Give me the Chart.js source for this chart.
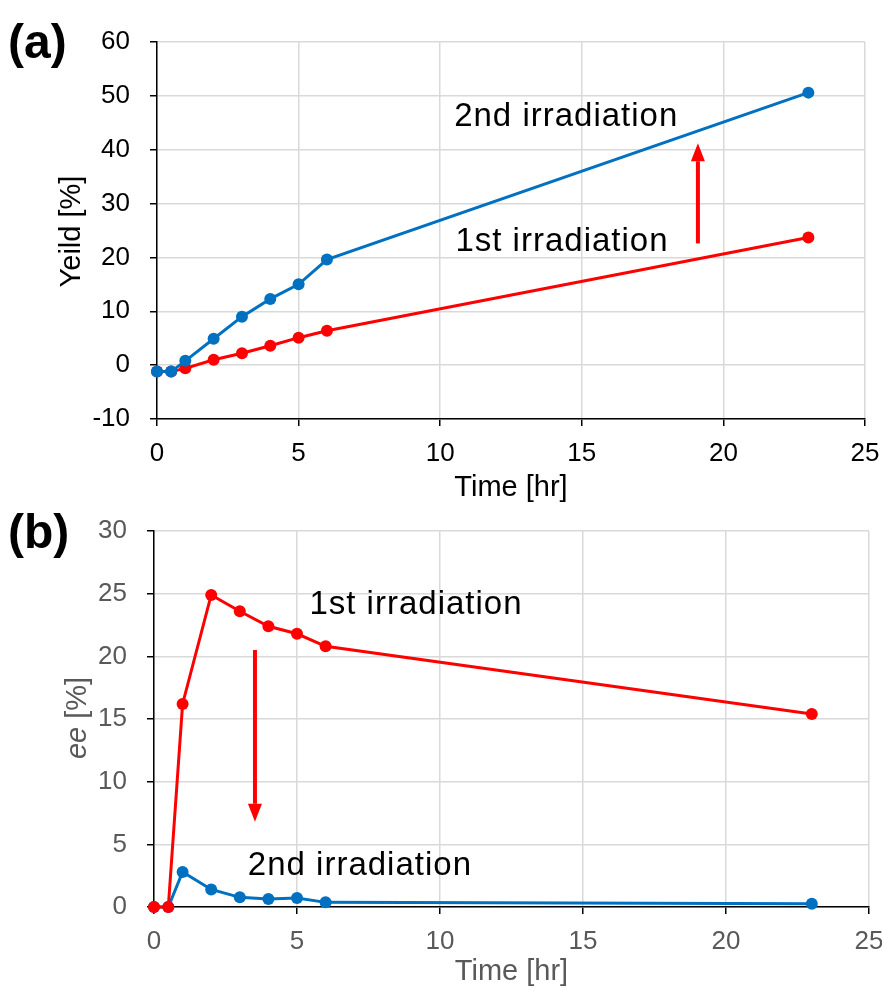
<!DOCTYPE html>
<html>
<head>
<meta charset="utf-8">
<script src="https://cdn.jsdelivr.net/npm/chart.js@4"></script>
<style>
  body { margin: 0; background: #fff; }
  #wrap { position: relative; width: 882px; height: 991px; }
  canvas { position: absolute; left: 0; }
  #chartA { top: 0; }
  #chartB { top: 505px; }
</style>
</head>
<body>
<div id="wrap">
  <canvas id="chartA" width="882" height="505"></canvas>
  <canvas id="chartB" width="882" height="486"></canvas>
</div>
<script>
// sampling times (hr)
const timeHr = [0, 0.5, 1, 2, 3, 4, 5, 6, 23];

// (a) yield [%]
const yield1st = [-1.2, -1.2, -0.6, 1.0, 2.2, 3.6, 5.1, 6.4, 23.7];
const yield2nd = [-1.2, -1.2, 0.8, 4.9, 9.0, 12.3, 15.0, 19.6, 50.6];

// (b) ee [%]
const ee1st = [0, 0, 16.2, 24.9, 23.6, 22.4, 21.8, 20.8, 15.4];
const ee2nd = [0, 0, 2.8, 1.4, 0.77, 0.64, 0.72, 0.37, 0.26];

const RED = '#ff0000';
const BLUE = '#0070c0';
const FONT = '"Liberation Sans", Arial, sans-serif';

function toPoints(xs, ys) {
    return xs.map((x, i) => ({ x: x, y: ys[i] }));
}

function series(label, values, color, order) {
    return {
        label: label,
        data: toPoints(timeHr, values),
        borderColor: color,
        backgroundColor: color,
        borderWidth: 3,
        pointRadius: 6,
        pointHoverRadius: 6,
        pointBorderWidth: 0,
        tension: 0,
        clip: false,
        order: order,
    };
}

// draws the panel letter, axis titles and the text / arrow notes
function notesPlugin(cfg) {
    return {
        id: 'notes',
        afterDraw(chart) {
            const c = chart.ctx;
            const xs = chart.scales.x;
            const ys = chart.scales.y;
            c.save();
            c.fillStyle = '#000';
            c.font = 'bold 48px ' + FONT;
            c.textAlign = 'left';
            c.textBaseline = 'middle';
            c.fillText(cfg.panel, 8, cfg.panelY);

            c.fillStyle = cfg.titleColor;
            c.font = '29px ' + FONT;
            c.textAlign = 'center';
            c.fillText('Time [hr]', (chart.chartArea.left + chart.chartArea.right) / 2, cfg.xTitleY);

            c.save();
            c.translate(cfg.yTitleX, (chart.chartArea.top + chart.chartArea.bottom) / 2 + cfg.yTitleShift);
            c.rotate(-Math.PI / 2);
            let w = 0;
            cfg.yTitle.forEach(p => { c.font = (p.italic ? 'italic ' : '') + '29px ' + FONT; w += c.measureText(p.text).width; });
            let px = -w / 2;
            c.textAlign = 'left';
            cfg.yTitle.forEach(p => {
                c.font = (p.italic ? 'italic ' : '') + '29px ' + FONT;
                c.fillText(p.text, px, 0);
                px += c.measureText(p.text).width;
            });
            c.restore();

            c.fillStyle = '#000';
            c.font = '33px ' + FONT;
            c.letterSpacing = '1px';
            c.textAlign = 'center';
            cfg.labels.forEach(l => {
                c.fillText(l.text, xs.getPixelForValue(l.x), ys.getPixelForValue(l.y));
            });
            c.letterSpacing = '0px';

            cfg.arrows.forEach(a => {
                const x = xs.getPixelForValue(a.x);
                const y0 = ys.getPixelForValue(a.from);
                const y1 = ys.getPixelForValue(a.to);
                const dir = y1 < y0 ? -1 : 1;
                const head = 18;
                c.strokeStyle = RED;
                c.fillStyle = RED;
                c.lineWidth = 4;
                c.beginPath();
                c.moveTo(x, y0);
                c.lineTo(x, y1 - dir * head);
                c.stroke();
                c.beginPath();
                c.moveTo(x, y1);
                c.lineTo(x - 7, y1 - dir * head);
                c.lineTo(x + 7, y1 - dir * head);
                c.closePath();
                c.fill();
            });
            c.restore();
        },
    };
}

function makeChart(id, datasets, yMin, yMax, yStep, tickColor, area, notes) {
    return new Chart(document.getElementById(id), {
        type: 'line',
        data: { datasets: datasets },
        options: {
            responsive: false,
            animation: false,
            layout: { padding: { top: area.top, right: area.right, left: 0, bottom: 0 } },
            plugins: { legend: { display: false }, tooltip: { enabled: false } },
            scales: {
                x: {
                    type: 'linear',
                    min: 0,
                    max: 25,
                    ticks: { stepSize: 5, color: tickColor, font: { family: FONT, size: 26 }, padding: 12 },
                    grid: { color: '#d9d9d9', lineWidth: 1.5, tickLength: 7, tickColor: '#000', drawTicks: true },
                    border: { color: '#000', width: 1.5 },
                    afterFit: s => { s.height = area.xHeight; s.paddingLeft = 0; s.paddingRight = 0; },
                },
                y: {
                    min: yMin,
                    max: yMax,
                    ticks: { stepSize: yStep, color: tickColor, font: { family: FONT, size: 26 }, padding: 20 },
                    grid: { color: '#d9d9d9', lineWidth: 1.5, tickLength: 7, tickColor: '#000' },
                    border: { color: '#000', width: 1.5 },
                    afterFit: s => { s.width = area.left; s.paddingTop = 0; s.paddingBottom = 0; },
                },
            },
        },
        plugins: [notesPlugin(notes)],
    });
}

makeChart('chartA',
    [series('2nd irradiation', yield2nd, BLUE, 0), series('1st irradiation', yield1st, RED, 1)],
    -10, 60, 10, '#000',
    { top: 42, right: 17, left: 157, xHeight: 86 },
    {
        panel: '(a)', panelY: 45, titleColor: '#000', xTitleY: 488, yTitleX: 72, yTitleShift: 1,
        yTitle: [{ text: 'Yeild [%]', italic: false }],
        labels: [
            { text: '2nd irradiation', x: 14.45, y: 46.1 },
            { text: '1st irradiation', x: 14.3, y: 22.8 },
        ],
        arrows: [{ x: 19.1, from: 22.6, to: 41.2 }],
    });

makeChart('chartB',
    [series('1st irradiation', ee1st, RED, 0), series('2nd irradiation', ee2nd, BLUE, 1)],
    0, 30, 5, '#595959',
    { top: 26, right: 13, left: 154, xHeight: 84 },
    {
        panel: '(b)', panelY: 30, titleColor: '#595959', xTitleY: 467, yTitleX: 78, yTitleShift: -1,
        yTitle: [{ text: 'ee', italic: true }, { text: ' [%]', italic: false }],
        labels: [
            { text: '1st irradiation', x: 9.16, y: 24.1 },
            { text: '2nd irradiation', x: 7.2, y: 3.3 },
        ],
        arrows: [{ x: 3.53, from: 20.5, to: 6.8 }],
    });
</script>
</body>
</html>
